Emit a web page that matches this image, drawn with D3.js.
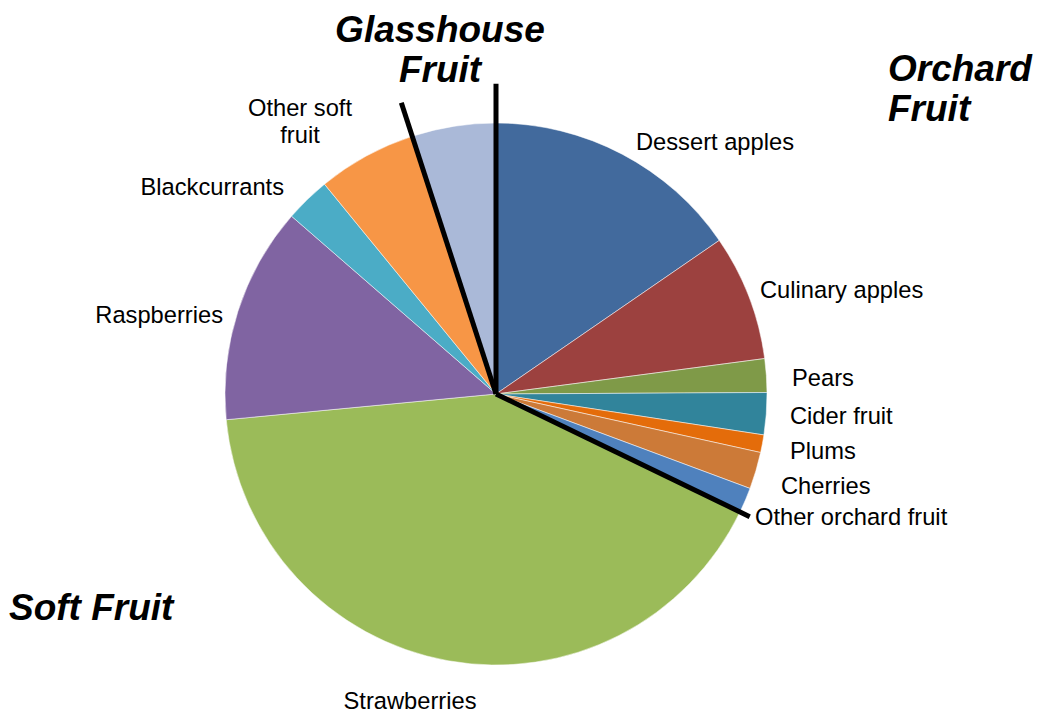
<!DOCTYPE html>
<html>
<head>
<meta charset="utf-8">
<script src="https://cdn.jsdelivr.net/npm/d3@7"></script>
<style>
  body { margin: 0; background: #fff; }
  text { font-family: Arial, "Liberation Sans", sans-serif; fill: #000; }
  .label { font-size: 23.7px; }
  .group { font-size: 37px; font-weight: bold; font-style: italic; }
</style>
</head>
<body>
<div id="chart"></div>
<script>
// Chart size
const svgWidth = 1038;
const svgHeight = 715;

// Fruit categories, clockwise from 12 o'clock
const categories = ["Dessert apples", "Culinary apples", "Pears", "Cider fruit", "Plums", "Cherries",
  "Other orchard fruit", "Strawberries", "Raspberries", "Blackcurrants", "Other soft fruit", "Glasshouse fruit"];

// Share of total (%)
const values = [15.4, 7.5, 2.0, 2.5, 1.05, 2.2, 1.5, 41.3, 12.9, 2.7, 5.9, 5.0];

// Which group each slice belongs to
const groups = ["Orchard", "Orchard", "Orchard", "Orchard", "Orchard", "Orchard",
  "Orchard", "Soft", "Soft", "Soft", "Soft", "Glasshouse"];

const colors = ["#426A9D", "#9C413F", "#7F9A48", "#31849B", "#E46C0A", "#CC7A38",
  "#4F81BD", "#9BBB59", "#8064A2", "#4BACC6", "#F79646", "#AAB9D8"];

const cx = 496, cy = 394, radius = 271;

const svg = d3.select("#chart").append("svg")
  .attr("width", svgWidth)
  .attr("height", svgHeight);

const chart = svg.append("g").attr("transform", "translate(" + cx + "," + cy + ")");

const data = categories.map(function(c, i) {
  return { name: c, value: values[i], group: groups[i], color: colors[i] };
});

// keep the data order, no sorting
const pie = d3.pie().sort(null).value(function(d) { return d.value; });
const arc = d3.arc().innerRadius(0).outerRadius(radius);
const arcs = pie(data);

chart.selectAll("path.slice")
  .data(arcs)
  .enter()
  .append("path")
  .attr("class", "slice")
  .attr("d", arc)
  .attr("fill", function(d) { return d.data.color; })
  .attr("stroke", "#fff")
  .attr("stroke-width", 0.5);

// Thick black dividers where one group ends and the next starts
const dividerAngles = [];
arcs.forEach(function(a, i) {
  const prev = arcs[(i - 1 + arcs.length) % arcs.length];
  if (prev.data.group !== a.data.group) dividerAngles.push(a.startAngle);
});
// how far each divider sticks out past the rim
const dividerReach = { "Orchard": 1.145, "Soft": 1.04, "Glasshouse": 1.13 };
arcs.forEach(function(a) {
  if (dividerAngles.indexOf(a.startAngle) < 0) return;
  const len = radius * dividerReach[a.data.group];
  chart.append("line")
    .attr("x1", 0).attr("y1", 0)
    .attr("x2", Math.sin(a.startAngle) * len)
    .attr("y2", -Math.cos(a.startAngle) * len)
    .attr("stroke", "#000")
    .attr("stroke-width", 5);
});

// Slice labels: placed outside the rim
const labelPos = {
  "Dessert apples": [140, -244, "start"],
  "Culinary apples": [264, -96, "start"],
  "Pears": [296, -8, "start"],
  "Cider fruit": [294, 30, "start"],
  "Plums": [294, 65, "start"],
  "Cherries": [285, 100, "start"],
  "Other orchard fruit": [259, 131, "start"],
  "Strawberries": [-86, 315, "middle"],
  "Raspberries": [-273, -71, "end"],
  "Blackcurrants": [-212, -199, "end"],
  "Other soft fruit": [-196, -278, "middle"],
};

arcs.forEach(function(a) {
  const p = labelPos[a.data.name];
  if (!p) return;
  const t = chart.append("text")
    .attr("class", "label")
    .attr("text-anchor", p[2])
    .attr("x", p[0])
    .attr("y", p[1]);
  if (a.data.name === "Other soft fruit") {
    t.append("tspan").attr("x", p[0]).text("Other soft");
    t.append("tspan").attr("x", p[0]).attr("dy", 27).text("fruit");
  } else {
    t.text(a.data.name);
  }
});

// Group titles
function groupTitle(lines, x, y, anchor) {
  const t = svg.append("text")
    .attr("class", "group")
    .attr("text-anchor", anchor)
    .attr("x", x).attr("y", y);
  lines.forEach(function(l, i) {
    t.append("tspan").attr("x", x).attr("dy", i === 0 ? 0 : 40).text(l);
  });
}
groupTitle(["Glasshouse", "Fruit"], 440, 42, "middle");
groupTitle(["Orchard", "Fruit"], 888, 81, "start");
groupTitle(["Soft Fruit"], 9, 620, "start");
</script>
</body>
</html>
